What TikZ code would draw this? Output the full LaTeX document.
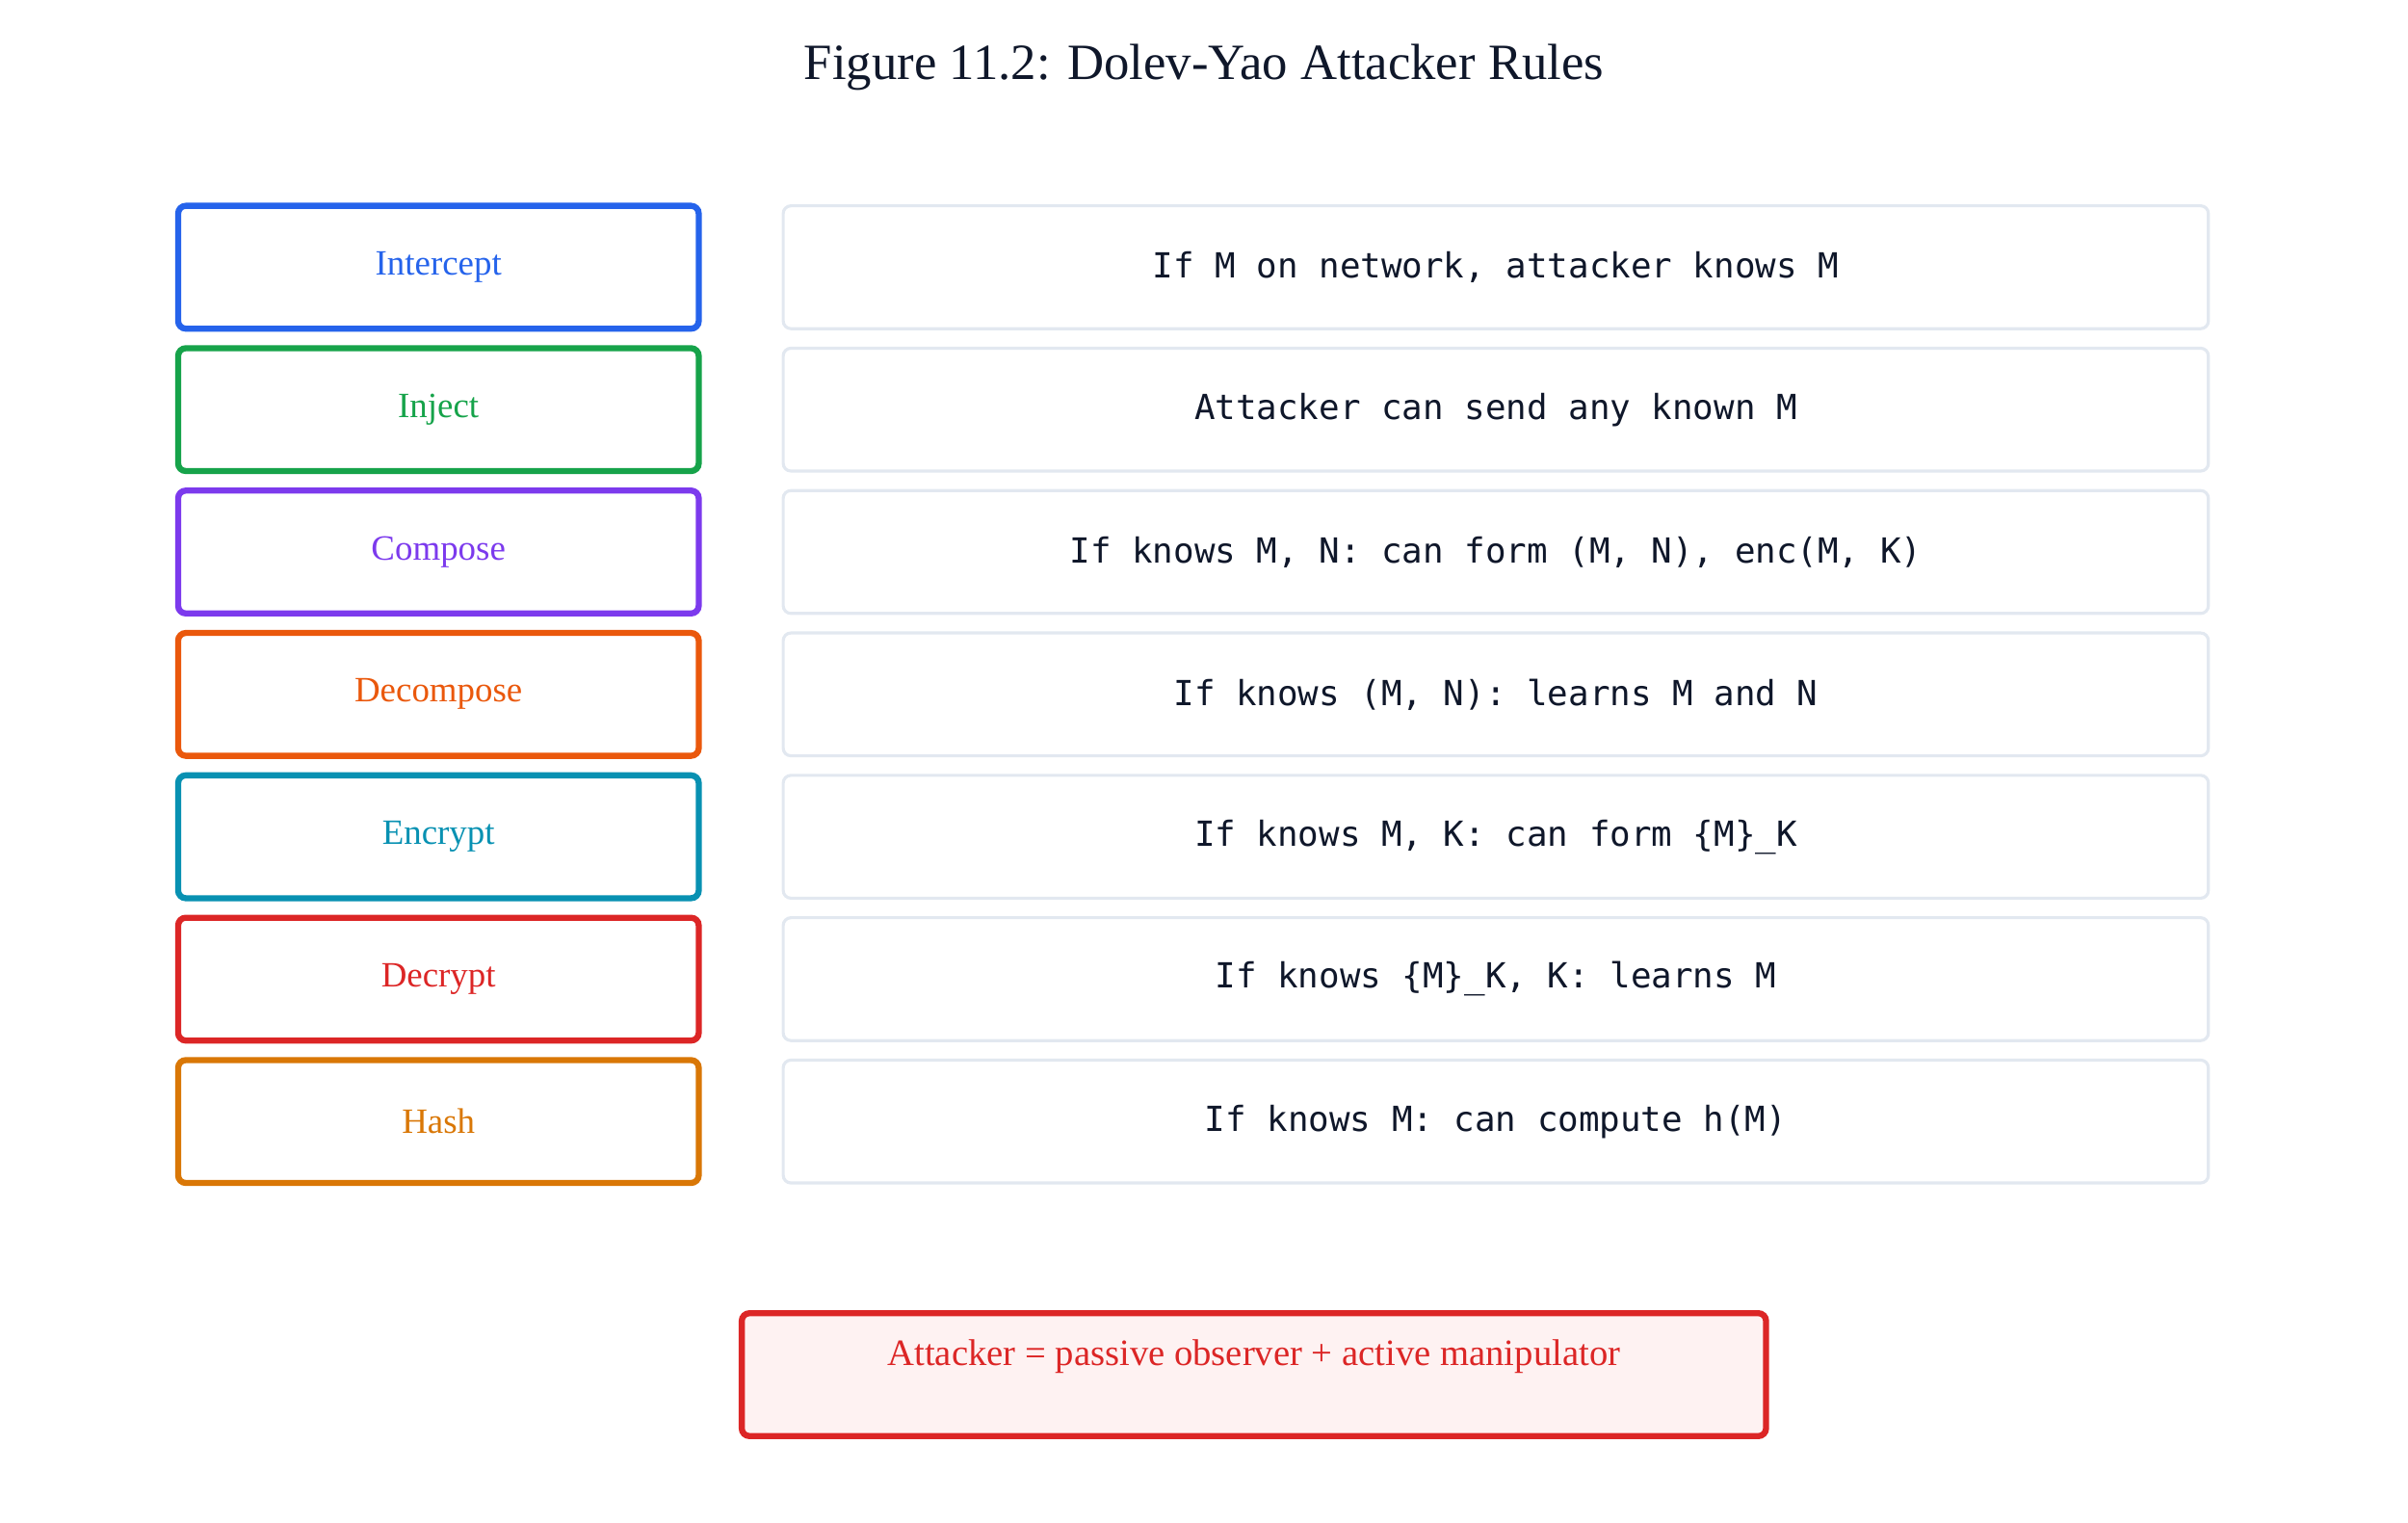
\documentclass[tikz,border=0pt]{standalone}
\usepackage{fontspec}
\setmainfont{Liberation Serif}
\setmonofont{DejaVu Sans Mono}
\definecolor{cblue}{HTML}{2563EB}
\definecolor{cgreen}{HTML}{16A34A}
\definecolor{cpurple}{HTML}{7C3AED}
\definecolor{corange}{HTML}{EA580C}
\definecolor{ccyan}{HTML}{0891B2}
\definecolor{cred}{HTML}{DC2626}
\definecolor{camber}{HTML}{D97706}
\definecolor{cgray}{HTML}{E2E8F0}
\definecolor{cdark}{HTML}{0F172A}
\definecolor{cpink}{HTML}{FEF2F2}
\begin{document}
\begin{tikzpicture}[x=0.015944cm,y=-0.015944cm,
  rule/.style={draw=#1,line width=1.8pt,rounded corners=0.08cm,text=#1,font=\fontsize{10.5}{12}\selectfont,inner sep=0pt},
  desc/.style={draw=cgray,line width=0.9pt,rounded corners=0.08cm,text=cdark,font=\ttfamily\fontsize{10.2}{12}\selectfont,inner sep=0pt}]
\useasboundingbox (0,0) rectangle (1568,991);
\node[text=cdark,font=\fontsize{15}{18}\selectfont] (title) at (784,44) {Figure 11.2: Dolev-Yao Attacker Rules};
\foreach \n/\t/\c/\d [count=\i from 0] in {
 a/Intercept/cblue/{If M on network, attacker knows M},
 b/Inject/cgreen/{Attacker can send any known M},
 c/Compose/cpurple/{If knows M, N: can form (M, N), enc(M, K)},
 d/Decompose/corange/{If knows (M, N): learns M and N},
 e/Encrypt/ccyan/{If knows M, K: can form \{M\}\_K},
 f/Decrypt/cred/{If knows \{M\}\_K, K: learns M},
 g/Hash/camber/{If knows M: can compute h(M)}} {
  \pgfmathsetmacro{\y}{174+92.7*\i}
  \node[rule=\c,minimum width=339*0.015944cm,minimum height=80*0.015944cm] (l\n) at (285.5,\y) {\t};
  \node[desc,minimum width=928*0.015944cm,minimum height=80*0.015944cm] (r\n) at (974,\y) {\d};
}
\node[draw=cred,fill=cpink,line width=1.8pt,rounded corners=0.08cm,text=cred,font=\fontsize{11}{13}\selectfont,minimum width=667*0.015944cm,minimum height=80*0.015944cm,text depth=0.45cm,inner sep=0pt] (sum) at (816.5,895) {Attacker = passive observer + active manipulator};
\end{tikzpicture}
\end{document}
